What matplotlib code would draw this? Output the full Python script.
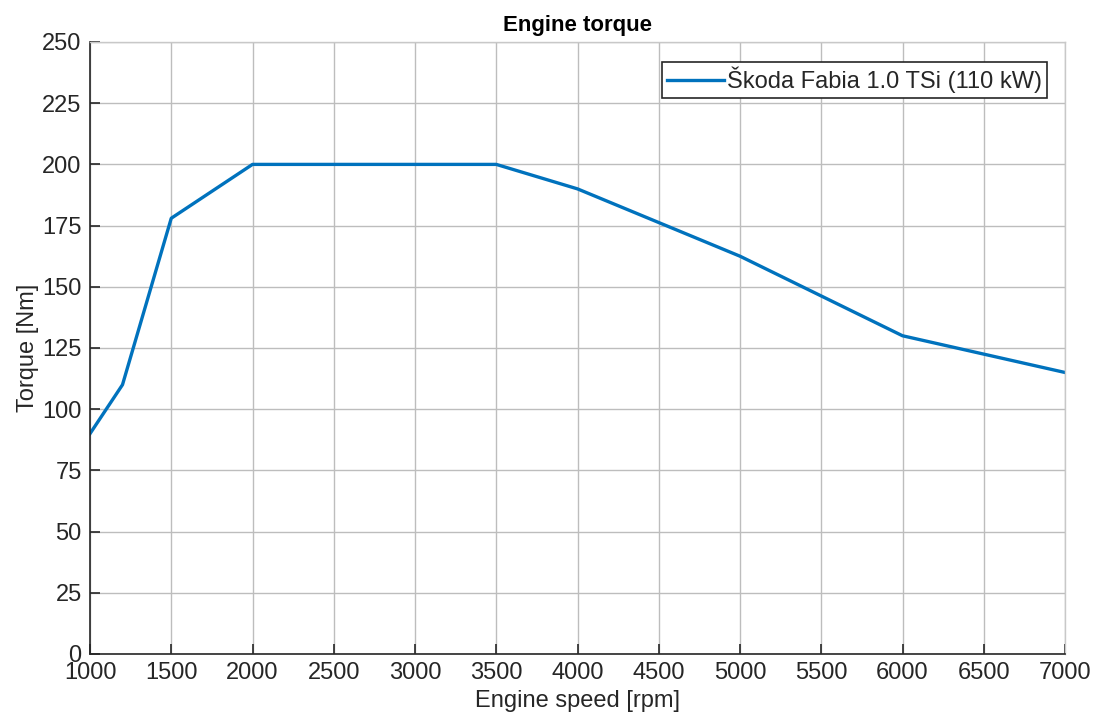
import matplotlib
matplotlib.use("Agg")
import matplotlib.pyplot as plt

speed_rpm = [1000, 1200, 1500, 2000, 3500, 4000, 5000, 6000, 7000]
torque_nm = [90, 110, 178, 200, 200, 190, 162.5, 130, 115]
series_label = "Škoda Fabia 1.0 TSi (110 kW)"
x_ticks = list(range(1000, 7001, 500))
y_ticks = list(range(0, 251, 25))

plt.rcParams['font.family'] = ['Liberation Sans', 'DejaVu Sans']

fig = plt.figure(figsize=(10.95, 7.16), dpi=100)
ax = fig.add_axes([90/1095, 1-654/716, 975/1095, 612/716])

dark = '#262626'
ax.plot(speed_rpm, torque_nm, color='#0072BD', lw=2.4, label=series_label)
ax.set_xlim(1000, 7000)
ax.set_ylim(0, 250)
ax.set_xticks(x_ticks)
ax.set_yticks(y_ticks)
ax.grid(True, color='#bdbdbd', lw=1.0)
ax.set_axisbelow(True)

for s in ['top', 'right']:
    ax.spines[s].set_color('#c8c8c8')
    ax.spines[s].set_linewidth(1.0)
for s in ['bottom', 'left']:
    ax.spines[s].set_color(dark)
    ax.spines[s].set_linewidth(1.2)

ax.tick_params(direction='in', length=7, width=1.2, colors=dark,
               labelsize=17, labelcolor=dark)
ax.tick_params(axis='y', pad=6)
ax.tick_params(axis='x', pad=6)

ax.set_title('Engine torque', fontsize=16, fontweight='bold', color='black', pad=8)
ax.set_xlabel('Engine speed [rpm]', fontsize=17, color=dark, labelpad=4)
ax.set_ylabel('Torque [Nm]', fontsize=17, color=dark, labelpad=2)

leg = ax.legend(loc='upper right', bbox_to_anchor=(1 - 18/975, 1 - 20/612),
                fontsize=17, frameon=True, fancybox=False,
                edgecolor=dark, framealpha=1, handlelength=2.4, handletextpad=0.15,
                borderpad=0.2, borderaxespad=0.0)
leg.get_frame().set_linewidth(1.2)
for t in leg.get_texts():
    t.set_color(dark)

fig.savefig('out.png', dpi=100)
